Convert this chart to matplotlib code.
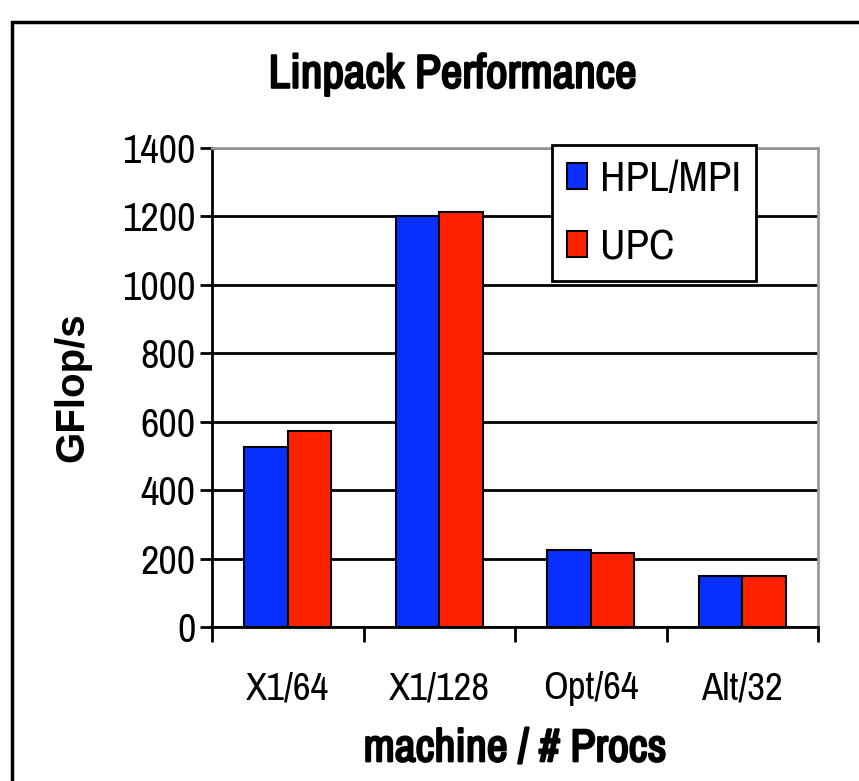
import matplotlib
matplotlib.use('Agg')
import matplotlib.pyplot as plt
import matplotlib.patheffects as pe
from matplotlib.patches import Rectangle
import numpy as np

# data
machines = ['X1/64', 'X1/128', 'Opt/64', 'Alt/32']
hpl_mpi = [526, 1202, 225, 149]
upc = [573, 1213, 216, 149]

narrow = ['Archivo Narrow', 'Liberation Sans', 'DejaVu Sans']
plt.rcParams['font.family'] = ['Liberation Sans', 'DejaVu Sans']

fig = plt.figure(figsize=(8.59, 7.81), dpi=100)
ax = fig.add_axes([0.2468, 0.1972, 0.9523 - 0.2468, 0.8105 - 0.1972])

# outer frame of the figure (runs off right and bottom edge)
fig.patches.append(Rectangle((12 / 859, -0.05), 1.2, 1 - 22 / 781 + 0.05,
                             transform=fig.transFigure, fill=False,
                             edgecolor='black', linewidth=2.5, zorder=0))

x = np.arange(len(machines))
w = 0.287
ax.bar(x - w / 2, hpl_mpi, w, color='#0A30FF', edgecolor='black', linewidth=1.5,
       label='HPL/MPI', zorder=3)
ax.bar(x + w / 2, upc, w, color='#FF2200', edgecolor='black', linewidth=1.5,
       label='UPC', zorder=3)

ax.set_xlim(-0.5, 3.5)
ax.set_ylim(0, 1400)
ax.set_yticks(np.arange(0, 1401, 200))
ax.yaxis.grid(True, color='black', linewidth=2, zorder=0)
ax.set_axisbelow(True)

ax.set_xticks(x)
ax.set_xticklabels(machines, family=narrow, fontsize=28)
ax.set_xticks(np.arange(-0.5, 3.6, 1), minor=True)
ax.tick_params(axis='x', which='major', length=0, pad=32)
ax.tick_params(axis='x', which='minor', length=11, width=2, direction='out')
ax.tick_params(axis='y', length=9, width=2, direction='out', pad=3)
for lab in ax.get_yticklabels():
    lab.set_family(narrow)
    lab.set_fontsize(29)

for s in ['left', 'bottom']:
    ax.spines[s].set_color('black')
    ax.spines[s].set_linewidth(2)
for s in ['top', 'right']:
    ax.spines[s].set_color('#999999')
    ax.spines[s].set_linewidth(2)

bold = [pe.withStroke(linewidth=1.6, foreground='black')]
ax.set_ylabel('GFlop/s', fontsize=29, fontweight='bold', labelpad=22)
ax.set_xlabel('machine / # Procs', family=narrow, fontsize=33, labelpad=15,
              path_effects=bold)
fig.text(0.527, 0.905, 'Linpack Performance', family=narrow, fontsize=34,
         ha='center', va='center', path_effects=bold)

leg = ax.legend(loc='upper left', bbox_to_anchor=(0.561, 1.006), borderaxespad=0,
                fancybox=False, framealpha=1, edgecolor='black',
                prop={'family': narrow, 'size': 31},
                handlelength=0.47, handleheight=0.55, handletextpad=0.3,
                labelspacing=0.7, borderpad=0.35)
leg.get_frame().set_linewidth(2)
leg.set_zorder(5)

fig.savefig('out.png', dpi=100)
